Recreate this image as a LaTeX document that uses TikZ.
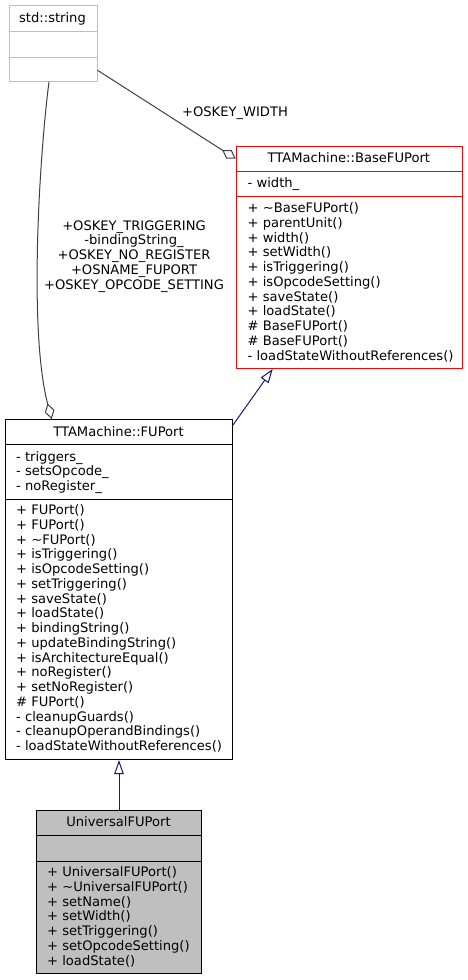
\documentclass[tikz,border=0pt]{standalone}
\usepackage{fontspec}
\setmainfont{DejaVu Sans}
\usetikzlibrary{arrows.meta,calc}
\definecolor{boxgrey}{HTML}{BFBFBF}
\definecolor{edgegrey}{HTML}{404040}
\definecolor{inhblue}{HTML}{191970}
\newcommand{\umlfont}{\fontsize{13.1}{14.75}\selectfont}

\begin{document}
\begin{tikzpicture}[x=1pt,y=-1pt,
    umlbox/.style={draw,anchor=north west,inner sep=0pt,line width=1pt},
    member/.style={anchor=base west,inner sep=0pt,font=\umlfont},
    classtitle/.style={anchor=base,inner sep=0pt,font=\umlfont},
    inherit/.style={draw=inhblue,line width=1pt,-{Triangle[open,length=14pt,width=9.5pt,fill=white]}},
    aggregate/.style={draw=edgegrey,line width=1pt,-{Diamond[open,length=16pt,width=10pt,fill=white]}}]
    \useasboundingbox (0,0) rectangle (468,980);

    % std::string
    \node[umlbox,draw=boxgrey,minimum width=88pt,minimum height=76pt] (stdstring) at (8.5,5) {};
    \draw[boxgrey,line width=1pt] (8.5,31) -- (96.5,31);
    \draw[boxgrey,line width=1pt] (8.5,57) -- (96.5,57);
    \node[classtitle] (str-title) at (52.5,22) {std::string};

    % TTAMachine::BaseFUPort
    \node[umlbox,draw=red,minimum width=226.3pt,minimum height=222pt] (basefuport) at (235.7,146) {};
    \draw[red,line width=1pt] (235.7,171) -- (462,171);
    \draw[red,line width=1pt] (235.7,196.7) -- (462,196.7);
    \node[classtitle] (base-title) at (348.85,162.7) {TTAMachine::BaseFUPort};
    \node[member] (base-a0) at (247.5,187.3) {- width\_};
    \foreach \m [count=\i from 0] in {+ \textasciitilde BaseFUPort(), + parentUnit(), + width(),
        + setWidth(), + isTriggering(), + isOpcodeSetting(), + saveState(), + loadState(),
        \# BaseFUPort(), \# BaseFUPort(), - loadStateWithoutReferences()}
        \node[member] (base-m\i) at (247.5,{212.7+\i*14.75}) {\m};

    % TTAMachine::FUPort
    \node[umlbox,minimum width=227pt,minimum height=340pt] (fuport) at (5,419) {};
    \draw[line width=1pt] (5,444) -- (232,444);
    \draw[line width=1pt] (5,499) -- (232,499);
    \node[classtitle] (fu-title) at (118.5,436) {TTAMachine::FUPort};
    \foreach \m [count=\i from 0] in {- triggers\_, - setsOpcode\_, - noRegister\_}
        \node[member] (fu-a\i) at (16,{461+\i*14.75}) {\m};
    \foreach \m [count=\i from 0] in {+ FUPort(), + FUPort(), + \textasciitilde FUPort(),
        + isTriggering(), + isOpcodeSetting(), + setTriggering(), + saveState(), + loadState(),
        + bindingString(), + updateBindingString(), + isArchitectureEqual(), + noRegister(),
        + setNoRegister(), \# FUPort(), - cleanupGuards(), - cleanupOperandBindings(),
        - loadStateWithoutReferences()}
        \node[member] (fu-m\i) at (16,{514.5+\i*14.75}) {\m};

    % UniversalFUPort
    \node[umlbox,fill=boxgrey,minimum width=165pt,minimum height=163pt] (universal) at (36,810) {};
    \draw[line width=1pt] (36,835) -- (201,835);
    \draw[line width=1pt] (36,861) -- (201,861);
    \node[classtitle] (uni-title) at (118.5,826) {UniversalFUPort};
    \foreach \m [count=\i from 0] in {+ UniversalFUPort(), + \textasciitilde UniversalFUPort(),
        + setName(), + setWidth(), + setTriggering(), + setOpcodeSetting(), + loadState()}
        \node[member] (uni-m\i) at (47,{876.5+\i*14.75}) {\m};

    % aggregations
    \draw[aggregate] (stdstring.-31.5) -- (basefuport.139.1);
    \node[classtitle] (lbl-width) at (235,116.5) {+OSKEY\_WIDTH};
    \draw[aggregate] ($(stdstring.south west)+(40.5,0)$) .. controls (40,150) and (28,330) .. ($(fuport.north west)+(46.7,0)$);
    \node[font=\umlfont,align=center,inner sep=0pt] (lbl-fuport) at (134,256.2)
        {+OSKEY\_TRIGGERING\\-bindingString\_\\+OSKEY\_NO\_REGISTER\\+OSNAME\_FUPORT\\+OSKEY\_OPCODE\_SETTING};

    % inheritance
    \draw[inherit] ($(fuport.north east)+(0,6)$) -- ($(basefuport.south west)+(37,0)$);
    \draw[inherit] (universal.north) -- (fuport.south);
\end{tikzpicture}
\end{document}
